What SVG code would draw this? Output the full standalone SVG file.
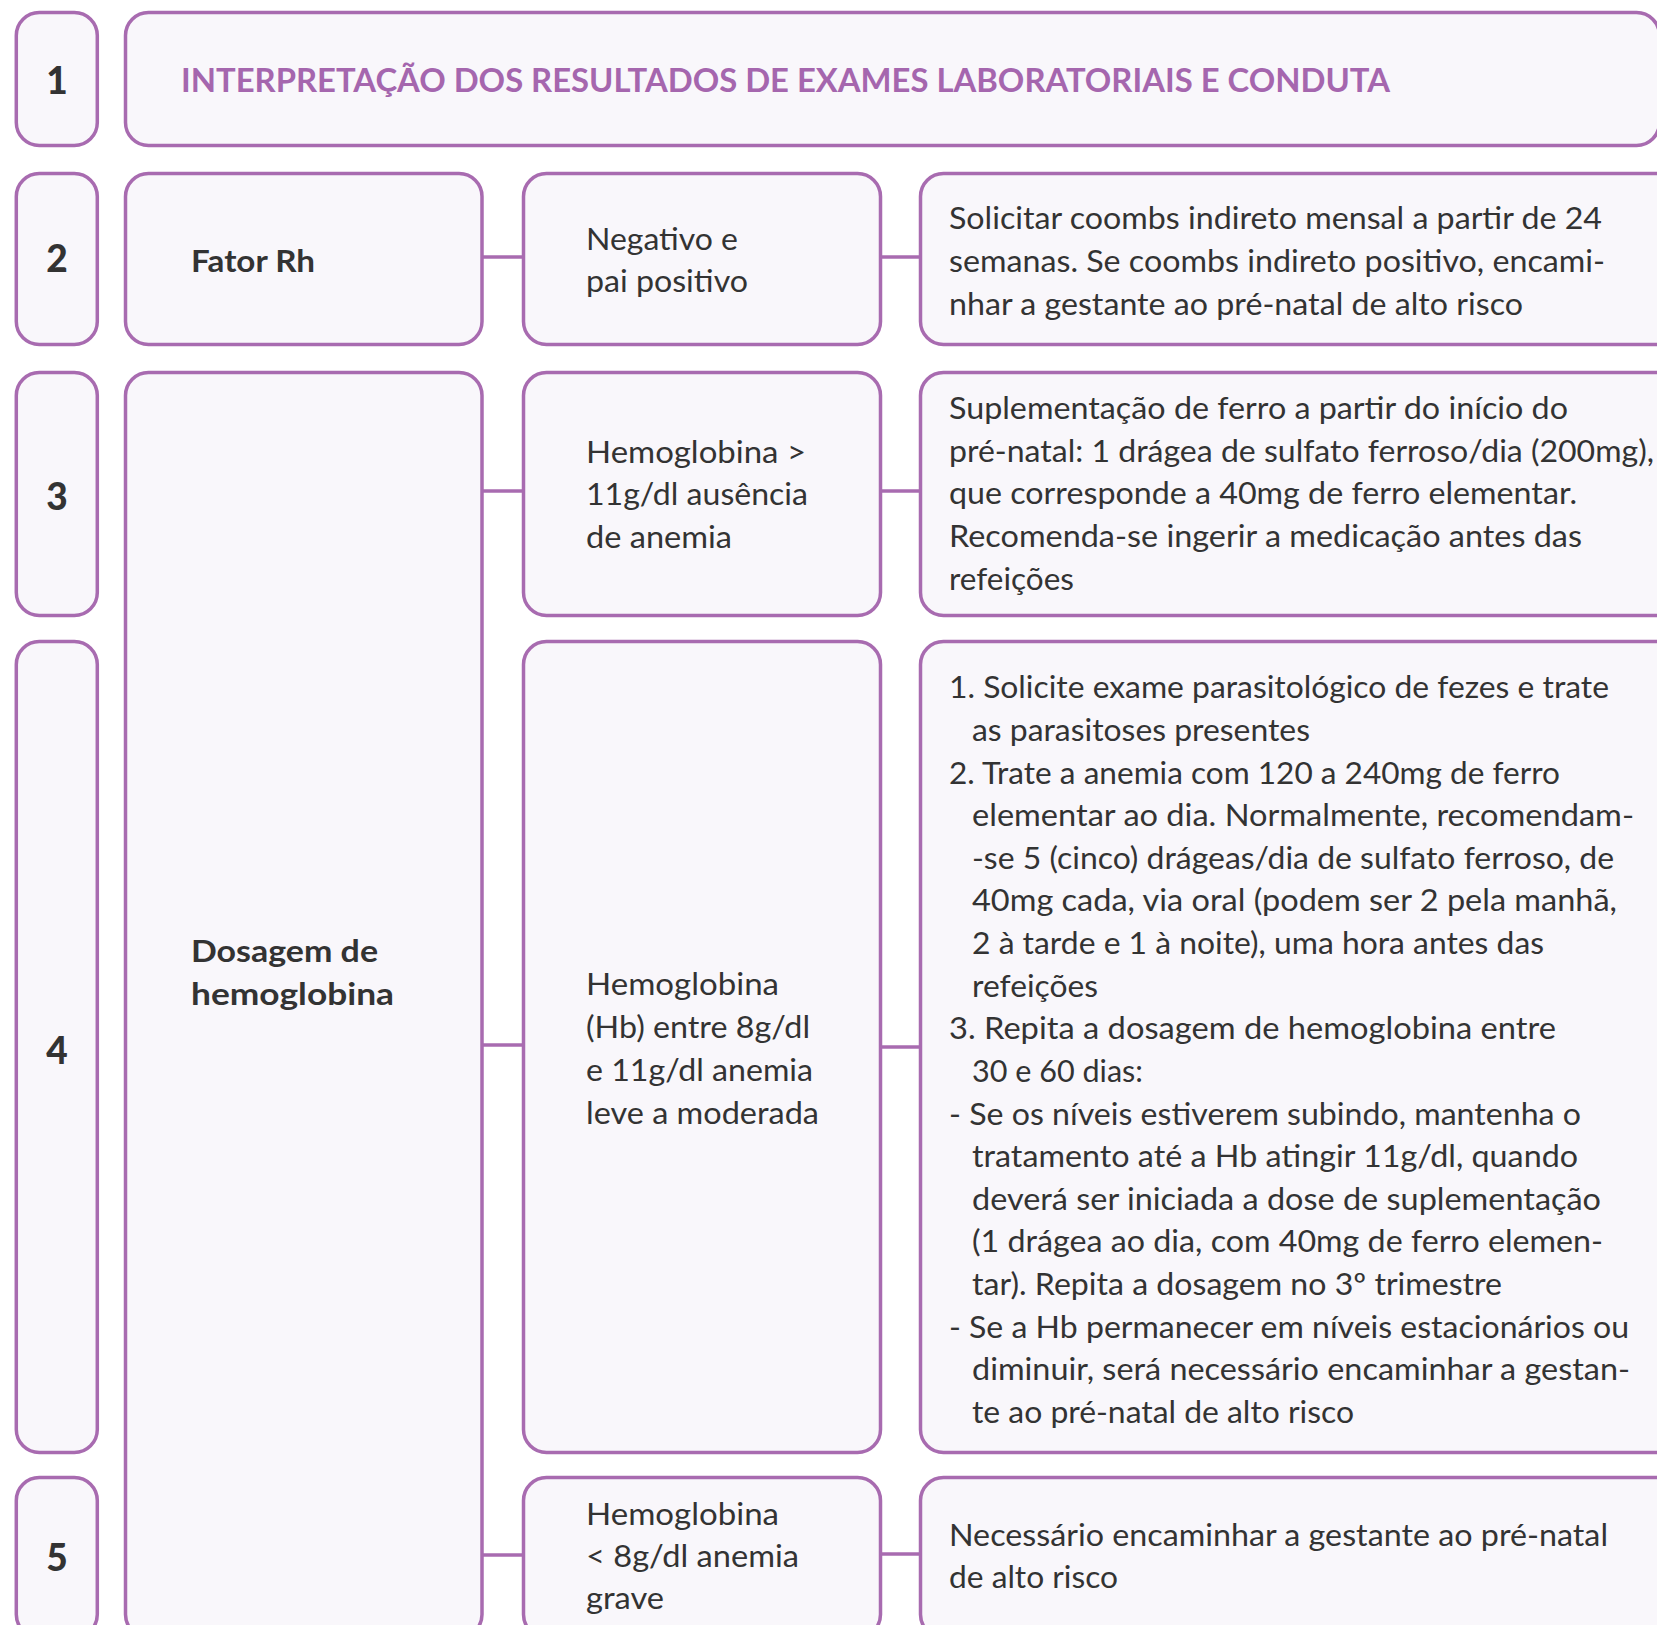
<svg xmlns="http://www.w3.org/2000/svg" width="1657" height="1625" viewBox="0 0 1657 1625">
<style>
.box{fill:#F9F7FB;stroke:#A86BB0;stroke-width:3.5}
.num{font-family:Lato,"Liberation Sans",sans-serif;font-weight:900;font-size:37px;fill:#333;text-anchor:middle}
.t{font-family:Lato,"Liberation Sans",sans-serif;font-size:31px;fill:#333}
.b{font-family:Lato,"Liberation Sans",sans-serif;font-weight:700;font-size:31px;fill:#333}
.title{font-family:Lato,"Liberation Sans",sans-serif;font-weight:700;font-size:32px;fill:#A566AE}
.conn{stroke:#A86BB0;stroke-width:3.5;fill:none}
</style>
<rect width="1657" height="1625" fill="#FFFFFF"/>
<g id="connectors">
<line class="conn" x1="482" y1="257" x2="524" y2="257"/>
<line class="conn" x1="880" y1="257" x2="922" y2="257"/>
<line class="conn" x1="482" y1="491" x2="524" y2="491"/>
<line class="conn" x1="880" y1="491" x2="922" y2="491"/>
<line class="conn" x1="482" y1="1045" x2="524" y2="1045"/>
<line class="conn" x1="880" y1="1047" x2="922" y2="1047"/>
<line class="conn" x1="482" y1="1555" x2="524" y2="1555"/>
<line class="conn" x1="880" y1="1554" x2="922" y2="1554"/>
</g>
<g id="n1"><rect class="box" x="16.3" y="12.5" width="81" height="133" rx="23"/><text class="num" x="57" y="94">1</text></g>
<g id="n2"><rect class="box" x="16.3" y="173.5" width="81" height="171" rx="23"/><text class="num" x="57" y="272">2</text></g>
<g id="n3"><rect class="box" x="16.3" y="372.5" width="81" height="243" rx="23"/><text class="num" x="57" y="510">3</text></g>
<g id="n4"><rect class="box" x="16.3" y="641.5" width="81" height="811" rx="23"/><text class="num" x="57" y="1064">4</text></g>
<g id="n5"><rect class="box" x="16.3" y="1477.5" width="81" height="160" rx="23"/><text class="num" x="57" y="1571">5</text></g>
<g id="title"><rect class="box" x="125.5" y="12.5" width="1534" height="133" rx="23"/><text class="title" x="181" y="92" textLength="1209" lengthAdjust="spacingAndGlyphs">INTERPRETAÇÃO DOS RESULTADOS DE EXAMES LABORATORIAIS E CONDUTA</text></g>
<g id="fator-rh"><rect class="box" x="125.5" y="173.5" width="356.5" height="171" rx="23"/><text class="b" x="191" y="272" textLength="124" lengthAdjust="spacingAndGlyphs">Fator Rh</text></g>
<g id="dosagem"><rect class="box" x="125.5" y="372.5" width="356.5" height="1265" rx="23"/>
<text class="b" x="191" y="962" textLength="187" lengthAdjust="spacingAndGlyphs">Dosagem de</text>
<text class="b" x="191" y="1005" textLength="203" lengthAdjust="spacingAndGlyphs">hemoglobina</text></g>
<g id="negativo"><rect class="box" x="523.5" y="173.5" width="357" height="171" rx="23"/>
<text class="t" x="586" y="250" textLength="152" lengthAdjust="spacingAndGlyphs">Negativo e</text>
<text class="t" x="586" y="292" textLength="162" lengthAdjust="spacingAndGlyphs">pai positivo</text></g>
<g id="hb-normal"><rect class="box" x="523.5" y="372.5" width="357" height="243" rx="23"/>
<text class="t" x="586" y="463" textLength="220" lengthAdjust="spacingAndGlyphs">Hemoglobina &gt;</text>
<text class="t" x="586" y="505" textLength="222" lengthAdjust="spacingAndGlyphs">11g/dl ausência</text>
<text class="t" x="586" y="548" textLength="146" lengthAdjust="spacingAndGlyphs">de anemia</text></g>
<g id="hb-moderada"><rect class="box" x="523.5" y="641.5" width="357" height="811" rx="23"/>
<text class="t" x="586" y="995" textLength="193" lengthAdjust="spacingAndGlyphs">Hemoglobina</text>
<text class="t" x="586" y="1038" textLength="224" lengthAdjust="spacingAndGlyphs">(Hb) entre 8g/dl</text>
<text class="t" x="586" y="1081" textLength="227" lengthAdjust="spacingAndGlyphs">e 11g/dl anemia</text>
<text class="t" x="586" y="1124" textLength="233" lengthAdjust="spacingAndGlyphs">leve a moderada</text></g>
<g id="hb-grave"><rect class="box" x="523.5" y="1477.5" width="357" height="160" rx="23"/>
<text class="t" x="586" y="1525" textLength="193" lengthAdjust="spacingAndGlyphs">Hemoglobina</text>
<text class="t" x="586" y="1567" textLength="213" lengthAdjust="spacingAndGlyphs">&lt; 8g/dl anemia</text>
<text class="t" x="586" y="1609" textLength="78" lengthAdjust="spacingAndGlyphs">grave</text></g>
<g id="conduta-rh"><rect class="box" x="920.5" y="173.5" width="780" height="171" rx="23"/>
<text class="t" x="949" y="229" textLength="653" lengthAdjust="spacingAndGlyphs">Solicitar coombs indireto mensal a partir de 24</text>
<text class="t" x="949" y="272" textLength="656" lengthAdjust="spacingAndGlyphs">semanas. Se coombs indireto positivo, encami-</text>
<text class="t" x="949" y="315" textLength="574" lengthAdjust="spacingAndGlyphs">nhar a gestante ao pré-natal de alto risco</text></g>
<g id="conduta-normal"><rect class="box" x="920.5" y="372.5" width="780" height="243" rx="23"/>
<text class="t" x="949" y="419" textLength="619" lengthAdjust="spacingAndGlyphs">Suplementação de ferro a partir do início do</text>
<text class="t" x="949" y="462" textLength="705" lengthAdjust="spacingAndGlyphs">pré-natal: 1 drágea de sulfato ferroso/dia (200mg),</text>
<text class="t" x="949" y="504" textLength="628" lengthAdjust="spacingAndGlyphs">que corresponde a 40mg de ferro elementar.</text>
<text class="t" x="949" y="547" textLength="633" lengthAdjust="spacingAndGlyphs">Recomenda-se ingerir a medicação antes das</text>
<text class="t" x="949" y="590" textLength="125" lengthAdjust="spacingAndGlyphs">refeições</text></g>
<g id="conduta-moderada"><rect class="box" x="920.5" y="641.5" width="780" height="811" rx="23"/>
<text class="t" x="949" y="698" textLength="660" lengthAdjust="spacingAndGlyphs">1. Solicite exame parasitológico de fezes e trate</text>
<text class="t" x="972" y="741" textLength="338" lengthAdjust="spacingAndGlyphs">as parasitoses presentes</text>
<text class="t" x="949" y="784" textLength="611" lengthAdjust="spacingAndGlyphs">2. Trate a anemia com 120 a 240mg de ferro</text>
<text class="t" x="972" y="826" textLength="662" lengthAdjust="spacingAndGlyphs">elementar ao dia. Normalmente, recomendam-</text>
<text class="t" x="972" y="869" textLength="642" lengthAdjust="spacingAndGlyphs">-se 5 (cinco) drágeas/dia de sulfato ferroso, de</text>
<text class="t" x="972" y="911" textLength="645" lengthAdjust="spacingAndGlyphs">40mg cada, via oral (podem ser 2 pela manhã,</text>
<text class="t" x="972" y="954" textLength="572" lengthAdjust="spacingAndGlyphs">2 à tarde e 1 à noite), uma hora antes das</text>
<text class="t" x="972" y="997" textLength="126" lengthAdjust="spacingAndGlyphs">refeições</text>
<text class="t" x="949" y="1039" textLength="607" lengthAdjust="spacingAndGlyphs">3. Repita a dosagem de hemoglobina entre</text>
<text class="t" x="972" y="1082" textLength="171" lengthAdjust="spacingAndGlyphs">30 e 60 dias:</text>
<text class="t" x="949" y="1125" textLength="632" lengthAdjust="spacingAndGlyphs">- Se os níveis estiverem subindo, mantenha o</text>
<text class="t" x="972" y="1167" textLength="606" lengthAdjust="spacingAndGlyphs">tratamento até a Hb atingir 11g/dl, quando</text>
<text class="t" x="972" y="1210" textLength="629" lengthAdjust="spacingAndGlyphs">deverá ser iniciada a dose de suplementação</text>
<text class="t" x="972" y="1252" textLength="631" lengthAdjust="spacingAndGlyphs">(1 drágea ao dia, com 40mg de ferro elemen-</text>
<text class="t" x="972" y="1295" textLength="530" lengthAdjust="spacingAndGlyphs">tar). Repita a dosagem no 3º trimestre</text>
<text class="t" x="949" y="1338" textLength="680" lengthAdjust="spacingAndGlyphs">- Se a Hb permanecer em níveis estacionários ou</text>
<text class="t" x="972" y="1380" textLength="658" lengthAdjust="spacingAndGlyphs">diminuir, será necessário encaminhar a gestan-</text>
<text class="t" x="972" y="1423" textLength="382" lengthAdjust="spacingAndGlyphs">te ao pré-natal de alto risco</text></g>
<g id="conduta-grave"><rect class="box" x="920.5" y="1477.5" width="780" height="160" rx="23"/>
<text class="t" x="949" y="1546" textLength="659" lengthAdjust="spacingAndGlyphs">Necessário encaminhar a gestante ao pré-natal</text>
<text class="t" x="949" y="1588" textLength="169" lengthAdjust="spacingAndGlyphs">de alto risco</text></g>
</svg>
